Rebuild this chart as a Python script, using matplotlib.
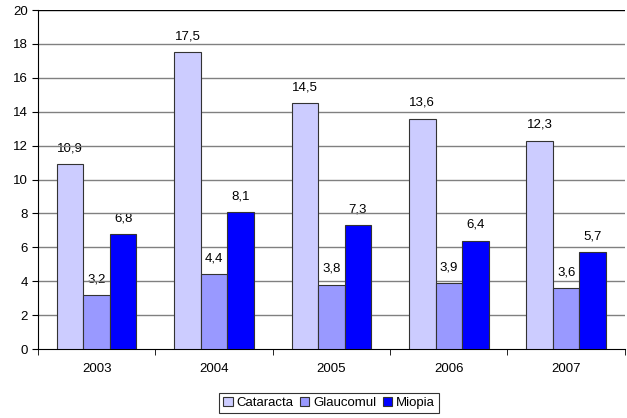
import numpy as np
from matplotlib import pyplot as plt

years = ['2003', '2004', '2005', '2006', '2007']
cataracta = [10.9, 17.5, 14.5, 13.6, 12.3]
glaucomul = [3.2, 4.4, 3.8, 3.9, 3.6]
miopia = [6.8, 8.1, 7.3, 6.4, 5.7]

series_names = ['Cataracta', 'Glaucomul', 'Miopia']
series_colors = ['#CCCCFF', '#9999FF', '#0000FF']


def main():
    plt.rcParams['font.family'] = ['Liberation Sans', 'DejaVu Sans']
    fs = 9.5
    fig = plt.figure(figsize=(6.27, 4.18), dpi=100)
    ax = fig.add_axes([0.0606, 0.165, 0.936, 0.811])

    x = np.arange(len(years))
    w = 0.226
    series = [cataracta, glaucomul, miopia]
    for k, (vals, name, col) in enumerate(zip(series, series_names, series_colors)):
        pos = x + (k - 1) * w
        bars = ax.bar(pos, vals, w, color=col, edgecolor='#333333', linewidth=0.8,
                      label=name, zorder=3)
        for b, v in zip(bars, vals):
            ax.annotate(str(v).replace('.', ','), (b.get_x() + b.get_width() / 2, v),
                        xytext=(0, 7), textcoords='offset points',
                        ha='center', va='bottom', fontsize=fs, zorder=0.5)

    ax.set_xlim(-0.5, len(years) - 0.5)
    ax.set_ylim(0, 20)
    ax.set_yticks(range(0, 21, 2))
    ax.set_xticks(x)
    ax.set_xticklabels(years, fontsize=fs)
    ax.set_xticks(np.arange(-0.5, len(years), 1), minor=True)
    ax.tick_params(axis='x', which='major', length=0, pad=10)
    ax.tick_params(axis='x', which='minor', length=4, direction='out', color='black')
    ax.tick_params(axis='y', length=4, direction='out', labelsize=fs)

    for yv in range(2, 21, 2):
        ax.axhline(yv, color='black' if yv == 20 else '#808080', linewidth=1, zorder=1)

    for s in ['top', 'right']:
        ax.spines[s].set_visible(False)
    ax.spines['left'].set_color('black')
    ax.spines['bottom'].set_color('black')

    leg = fig.legend(loc='center', bbox_to_anchor=(0.525, 0.036), ncol=3,
                     fontsize=fs, frameon=True, fancybox=False,
                     handlelength=0.7, handleheight=0.7, handletextpad=0.3,
                     columnspacing=0.5, borderpad=0.3)
    leg.get_frame().set_edgecolor('black')
    leg.get_frame().set_linewidth(0.8)

    fig.savefig('out.png', dpi=100)


if __name__ == "__main__":
    main()
